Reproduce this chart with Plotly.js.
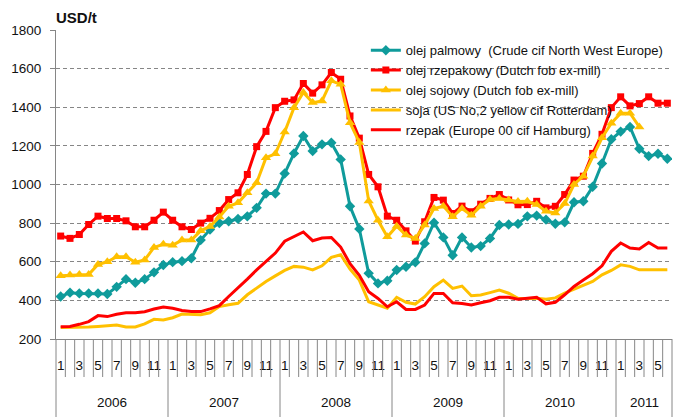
<!DOCTYPE html>
<html>
<head>
<meta charset="utf-8">
<script src="https://cdn.plot.ly/plotly-3.0.1.min.js"></script>
<style>html,body{margin:0;padding:0;background:#fff;}#chart{width:695px;height:417px;}</style>
</head>
<body>
<div id="chart"></div>
<script>
// ---- data ----
const years = ['2006', '2007', '2008', '2009', '2010', '2011'];
const monthsInYear = [12, 12, 12, 12, 12, 6];
const seriesNames = [
  'olej palmowy  (Crude cif North West Europe)',
  'olej rzepakowy (Dutch fob ex-mill)',
  'olej sojowy (Dutch fob ex-mill)',
  'soja (US No,2 yellow cif Rotterdam)',
  'rzepak (Europe 00 cif Hamburg)'
];
const palmOil = [420, 440, 436, 436, 436, 433, 470, 510, 491, 510, 545, 583,
  598, 603, 618, 712, 767, 801, 810, 822, 835, 879, 953, 953,
  1057, 1161, 1251, 1173, 1208, 1216, 1130, 887, 770, 540, 488, 502,
  557, 574, 597, 695, 802, 726, 634, 726, 674, 681, 721, 790,
  793, 796, 835, 839, 818, 797, 804, 908, 913, 988, 1109, 1234,
  1274, 1298, 1185, 1147, 1159, 1133];
const rapeseedOil = [733, 721, 741, 793, 836, 824, 824, 812, 781, 781, 815, 857,
  815, 781, 767, 800, 825, 865, 922, 957, 1052, 1196, 1275, 1398,
  1431, 1438, 1523, 1473, 1516, 1580, 1545, 1355, 1240, 1052, 988, 836,
  815, 760, 707, 807, 933, 919, 850, 888, 859, 898, 928, 948,
  920, 895, 896, 913, 879, 887, 948, 1023, 1043, 1161, 1260, 1398,
  1454, 1407, 1419, 1454, 1421, 1421];
const soyOil = [528, 531, 534, 534, 586, 600, 626, 626, 597, 609, 674, 691,
  686, 712, 712, 760, 783, 832, 887, 905, 957, 1009, 1139, 1159,
  1272, 1398, 1476, 1424, 1433, 1537, 1519, 1320, 1218, 915, 815, 729,
  784, 738, 721, 790, 876, 888, 833, 876, 841, 888, 922, 928,
  920, 912, 913, 896, 861, 853, 901, 1000, 1043, 1147, 1242, 1317,
  1369, 1369, 1298];
const soybeans = [259, 259, 259, 262, 265, 267, 272, 262, 262, 278, 302, 298,
  310, 329, 326, 326, 336, 368, 377, 385, 429, 463, 498, 527,
  555, 576, 572, 558, 579, 623, 636, 562, 505, 393, 376, 359,
  416, 390, 381, 419, 471, 505, 462, 474, 424, 428, 440, 453,
  437, 411, 410, 411, 406, 413, 437, 458, 475, 498, 532, 555,
  584, 576, 558, 558, 558, 558];
const rapeseed = [264, 265, 276, 290, 321, 316, 328, 336, 336, 341, 355, 366,
  359, 348, 343, 342, 356, 373, 420, 463, 510, 558, 602, 645,
  706, 728, 754, 709, 723, 726, 676, 590, 530, 445, 410, 367,
  393, 353, 353, 376, 436, 436, 388, 384, 376, 388, 398, 416,
  416, 406, 411, 416, 382, 390, 429, 472, 506, 538, 579, 654,
  697, 671, 666, 700, 671, 671];
const yTicks = [200, 400, 600, 800, 1000, 1200, 1400, 1600, 1800];

// ---- categories ----
const cats = [], monthTickVals = [], monthTickText = [];
years.forEach((y, k) => {
  for (let m = 1; m <= monthsInYear[k]; m++) {
    const c = y + '-' + m;
    cats.push(c);
    if (m % 2 === 1) { monthTickVals.push(c); monthTickText.push(String(m)); }
  }
});
const nMonths = cats.length;

const teal = '#0f9b9b', red = '#ff0000', gold = '#ffc000';
const traces = [
  {y: palmOil, color: teal, sym: 'diamond', size: 8},
  {y: rapeseedOil, color: red, sym: 'square', size: 7},
  {y: soyOil, color: gold, sym: 'triangle-up', size: 9},
  {y: soybeans, color: gold, sym: null},
  {y: rapeseed, color: red, sym: null}
].map((s, i) => {
  const t = {
    type: 'scatter', x: cats.slice(0, s.y.length), y: s.y, name: seriesNames[i],
    line: {color: s.color, width: 3},
    mode: s.sym ? 'lines+markers' : 'lines'
  };
  if (s.sym) t.marker = {symbol: s.sym, size: s.size, color: s.color};
  return t;
});

// ---- axis decorations (dividers + year labels) ----
const plotH = 417 - 30 - 78;
const shapes = [], annotations = [];
const yearStarts = [];
let acc = 0;
years.forEach((y, k) => { yearStarts.push(acc); acc += monthsInYear[k]; });
yearStarts.push(acc);
for (let j = 0; j <= nMonths; j++) {
  const isYear = yearStarts.indexOf(j) >= 0;
  shapes.push({type: 'line', xref: 'paper', yref: 'paper', x0: j / nMonths, x1: j / nMonths,
    y0: 0, y1: isYear ? -78 / plotH : -38 / plotH, line: {color: '#868686', width: 1}});
}
years.forEach((y, k) => {
  annotations.push({xref: 'paper', yref: 'paper', x: (yearStarts[k] + monthsInYear[k] / 2) / nMonths,
    y: -63 / plotH, text: y, showarrow: false, xanchor: 'center', yanchor: 'middle',
    font: {family: 'Liberation Sans, Arial, sans-serif', size: 13.5, color: '#111'}});
});
annotations.push({xref: 'paper', yref: 'paper', x: -0.003, y: 1, yshift: 2, xanchor: 'left', yanchor: 'bottom',
  text: '<b>USD/t</b>', showarrow: false, font: {family: 'Liberation Sans, Arial, sans-serif', size: 15, color: '#111'}});

const layout = {
  width: 695, height: 417,
  margin: {l: 56, r: 23, t: 30, b: 78, pad: 0},
  paper_bgcolor: '#fff', plot_bgcolor: '#fff',
  font: {family: 'Liberation Sans, Arial, sans-serif', size: 13.5, color: '#111'},
  showlegend: true,
  legend: {x: 0.503, y: 0.983, xanchor: 'left', yanchor: 'top', bgcolor: 'rgba(0,0,0,0)',
    font: {size: 13, color: '#111'}, itemwidth: 30, tracegroupgap: 0},
  xaxis: {type: 'category', categoryorder: 'array', categoryarray: cats,
    range: [-0.5, nMonths - 0.5], tickmode: 'array', tickvals: monthTickVals, ticktext: monthTickText,
    ticks: '', showgrid: false, zeroline: false, showline: true, linecolor: '#868686', linewidth: 1,
    ticklabelstandoff: 14, tickfont: {size: 13.5}, fixedrange: true},
  yaxis: {range: [200, 1800], tickmode: 'array', tickvals: yTicks, ticks: 'outside', ticklen: 5,
    tickcolor: '#868686', showline: true, linecolor: '#868686', linewidth: 1,
    showgrid: true, gridcolor: '#868686', gridwidth: 1, griddash: '4px,3px', zeroline: false,
    ticklabelstandoff: 6, tickfont: {size: 13.5}, fixedrange: true},
  shapes: shapes,
  annotations: annotations
};

Plotly.newPlot('chart', traces, layout, {displayModeBar: false, staticPlot: true});
</script>
</body>
</html>
